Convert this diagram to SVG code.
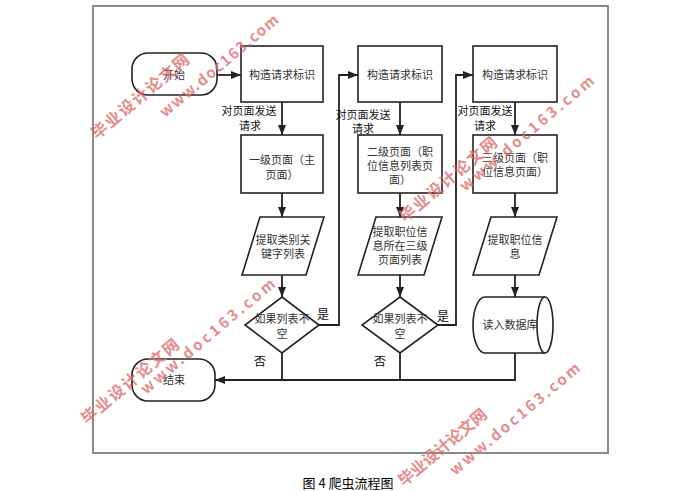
<svg xmlns="http://www.w3.org/2000/svg" width="690" height="491" viewBox="0 0 690 491">
<style>
.shape{fill:#fff;stroke:#222;stroke-width:1.6}
.t{font-family:"Noto Sans CJK SC","Liberation Sans",sans-serif;font-size:11px;fill:#333;text-anchor:middle}
.lbl{font-family:"Noto Sans CJK SC","Liberation Sans",sans-serif;font-size:11px;fill:#111;text-anchor:middle}
.yn{font-family:"Noto Sans CJK SC","Liberation Sans",sans-serif;font-size:12px;fill:#111;text-anchor:middle}
.conn{fill:none;stroke:#222;stroke-width:1.8}
.wm{font-family:"Noto Sans CJK SC","Liberation Sans",sans-serif;font-weight:bold;fill:#e06b6b;fill-opacity:0.8}
</style>
<defs>
<marker id="arr" markerWidth="10" markerHeight="8" refX="10" refY="4" orient="auto" markerUnits="userSpaceOnUse">
<path d="M0,0 L10,4 L0,8 Z" fill="#222"/>
</marker>
</defs>
<rect width="690" height="491" fill="#fff"/>
<rect x="93" y="6" width="515" height="447" fill="none" stroke="#8a8a8a" stroke-width="2"/>

<g id="connectors">
<path class="conn" d="M217,75 H241" marker-end="url(#arr)"/>
<path class="conn" d="M282,102 V135" marker-end="url(#arr)"/>
<path class="conn" d="M282,193 V217" marker-end="url(#arr)"/>
<path class="conn" d="M282,275 V297" marker-end="url(#arr)"/>
<path class="conn" d="M319,325 H339 V75 H358" marker-end="url(#arr)"/>
<path class="conn" d="M400,102 V135" marker-end="url(#arr)"/>
<path class="conn" d="M400,193 V217" marker-end="url(#arr)"/>
<path class="conn" d="M400,275 V297" marker-end="url(#arr)"/>
<path class="conn" d="M438,325 H456 V75 H473" marker-end="url(#arr)"/>
<path class="conn" d="M515,102 V135" marker-end="url(#arr)"/>
<path class="conn" d="M515,193 V217" marker-end="url(#arr)"/>
<path class="conn" d="M515,275 V297" marker-end="url(#arr)"/>
<path class="conn" d="M515,353 V380 H215" marker-end="url(#arr)"/>
<path class="conn" d="M282,353 V380"/>
<path class="conn" d="M400,353 V380"/>
<text class="lbl" x="249" y="115">对页面发送</text>
<text class="lbl" x="250" y="130">请求</text>
<text class="lbl" x="363" y="119">对页面发送</text>
<text class="lbl" x="363" y="133">请求</text>
<text class="lbl" x="485" y="115">对页面发送</text>
<text class="lbl" x="485" y="130">请求</text>
<text class="yn" x="323" y="319">是</text>
<text class="yn" x="443" y="321">是</text>
<text class="yn" x="260" y="366">否</text>
<text class="yn" x="380" y="366">否</text>
</g>

<g id="start">
<rect class="shape" x="132" y="53" width="85" height="42" rx="16" ry="16"/>
<text class="t" x="174" y="79">开始</text>
</g>
<g id="build1">
<rect class="shape" x="241" y="46" width="82" height="56"/>
<text class="t" x="282" y="79">构造请求标识</text>
</g>
<g id="page1">
<rect class="shape" x="241" y="135" width="82" height="58"/>
<text class="t" x="282" y="164">一级页面（主</text>
<text class="t" x="282" y="179">页面）</text>
</g>
<g id="extract1">
<polygon class="shape" points="260,217 324,217 306,275 242,275"/>
<text class="t" x="283" y="244">提取类别关</text>
<text class="t" x="283" y="258">键字列表</text>
</g>
<g id="decide1">
<polygon class="shape" points="282,297 319,325 282,353 245,325"/>
<text class="t" x="282" y="323">如果列表不</text>
<text class="t" x="282" y="338">空</text>
</g>
<g id="build2">
<rect class="shape" x="358" y="46" width="84" height="56"/>
<text class="t" x="400" y="79">构造请求标识</text>
</g>
<g id="page2">
<rect class="shape" x="358" y="135" width="84" height="58"/>
<text class="t" x="400" y="156">二级页面（职</text>
<text class="t" x="400" y="170">位信息列表页</text>
<text class="t" x="400" y="184">面）</text>
</g>
<g id="extract2">
<polygon class="shape" points="376,217 442,217 424,275 358,275"/>
<text class="t" x="400" y="236">提取职位信</text>
<text class="t" x="400" y="250">息所在三级</text>
<text class="t" x="400" y="264">页面列表</text>
</g>
<g id="decide2">
<polygon class="shape" points="400,297 438,325 400,353 362,325"/>
<text class="t" x="400" y="323">如果列表不</text>
<text class="t" x="400" y="338">空</text>
</g>
<g id="build3">
<rect class="shape" x="473" y="46" width="84" height="56"/>
<text class="t" x="515" y="79">构造请求标识</text>
</g>
<g id="page3">
<rect class="shape" x="473" y="135" width="84" height="58"/>
<text class="t" x="515" y="162">三级页面（职</text>
<text class="t" x="515" y="176">位信息页面）</text>
</g>
<g id="extract3">
<polygon class="shape" points="491,217 557,217 539,275 473,275"/>
<text class="t" x="515" y="244">提取职位信</text>
<text class="t" x="515" y="258">息</text>
</g>
<g id="database">
<path class="shape" d="M545,297 H485 A12,28 0 0 0 485,353 H545"/>
<ellipse class="shape" cx="545" cy="325" rx="8" ry="28"/>
<text class="t" x="510" y="329">读入数据库</text>
</g>
<g id="end">
<rect class="shape" x="132" y="359" width="83" height="42" rx="16" ry="16"/>
<text class="t" x="174" y="384">结束</text>
</g>

<text x="348" y="488" font-family="'Noto Sans CJK SC','Liberation Serif',serif" font-size="13" fill="#000" text-anchor="middle">图 4 爬虫流程图</text>

<g id="watermarks">
<text class="wm" font-size="16" transform="translate(97,140) rotate(-40)" textLength="122" lengthAdjust="spacing">毕业设计论文网</text>
<text class="wm" font-size="15" transform="translate(165,118) rotate(-40)" textLength="150" lengthAdjust="spacing">www.doc163.com</text>
<text class="wm" font-size="16" transform="translate(405,223) rotate(-40)" textLength="122" lengthAdjust="spacing">毕业设计论文网</text>
<text class="wm" font-size="15" transform="translate(465,192) rotate(-40)" textLength="170" lengthAdjust="spacing">www.doc163.com</text>
<text class="wm" font-size="16" transform="translate(87,425) rotate(-40)" textLength="122" lengthAdjust="spacing">毕业设计论文网</text>
<text class="wm" font-size="15" transform="translate(146,395) rotate(-40)" textLength="170" lengthAdjust="spacing">www.doc163.com</text>
<text class="wm" font-size="16" transform="translate(404,487) rotate(-40)" textLength="110" lengthAdjust="spacing">毕业设计论文网</text>
<text class="wm" font-size="15" transform="translate(455,476) rotate(-40)" textLength="165" lengthAdjust="spacing">www.doc163.com</text>
</g>
</svg>
